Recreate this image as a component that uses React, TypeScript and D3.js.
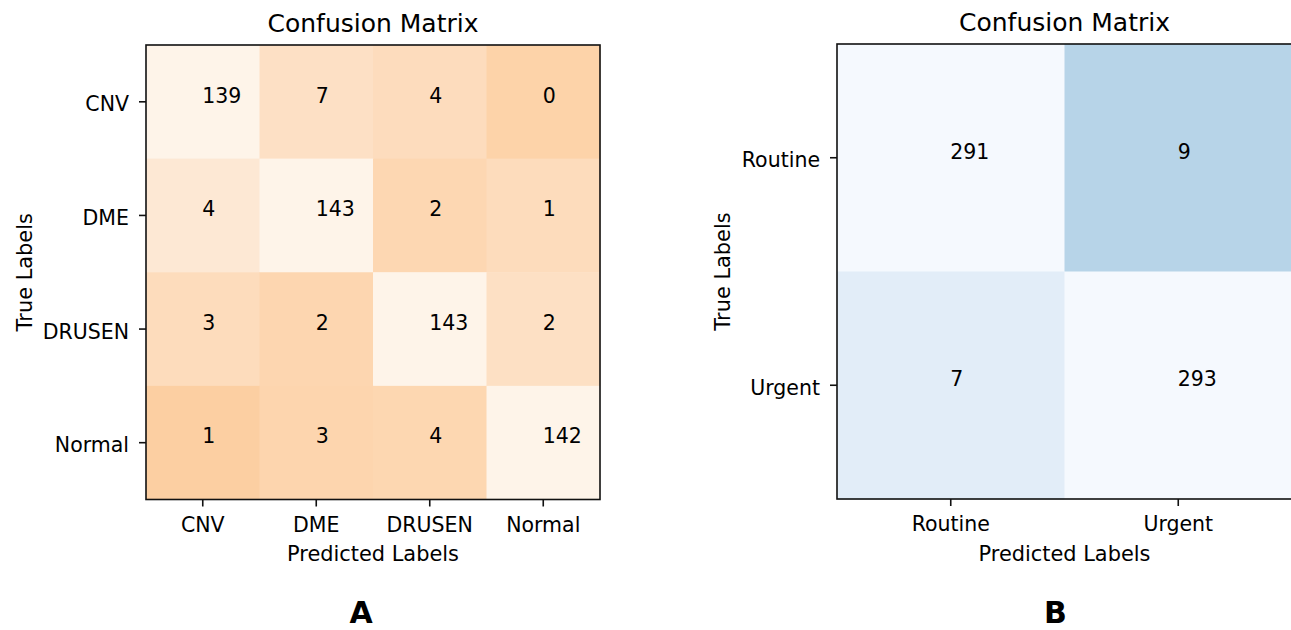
import React from "react";
import * as d3 from "d3";

// ---- Data ----
const classesA = ["CNV", "DME", "DRUSEN", "Normal"];
const matrixA = [
  [139, 7, 4, 0],
  [4, 143, 2, 1],
  [3, 2, 143, 2],
  [1, 3, 4, 142],
];
// colours, cell by cell
const coloursA = [
  ["#fef4e9", "#fde0c5", "#fddcbd", "#fdd3a9"],
  ["#fde8d4", "#fef4e9", "#fdd7b2", "#fddcbc"],
  ["#fddcbc", "#fdd6b0", "#fef4e9", "#fde0c4"],
  ["#fccfa2", "#fdd5ae", "#fdd7b1", "#fef4e9"],
];

const classesB = ["Routine", "Urgent"];
const matrixB = [
  [291, 9],
  [7, 293],
];
const coloursB = [
  ["#f5f9fe", "#b7d4e8"],
  ["#e2edf8", "#f5f9fe"],
];

const titleText = "Confusion Matrix";
const xLabelText = "Predicted Labels";
const yLabelText = "True Labels";
const panelLetters = ["A", "B"];

const FONT = "DejaVu Sans, Verdana, sans-serif";

type PanelProps = {
  classes: string[];
  matrix: number[][];
  colours: string[][];
  x0: number;
  x1: number;
  y0: number;
  y1: number;
  letter: string;
  letterX: number;
  yLabelX: number;
};

function Panel({ classes, matrix, colours, x0, x1, y0, y1, letter, letterX, yLabelX }: PanelProps) {
  const x = d3.scaleBand<string>().domain(classes).range([x0, x1]).padding(0);
  const y = d3.scaleBand<string>().domain(classes).range([y0, y1]).padding(0);
  const bw = x.bandwidth();
  const bh = y.bandwidth();
  const cx = (x0 + x1) / 2;
  const cy = (y0 + y1) / 2;
  return (
    <g fontFamily={FONT}>
      {matrix.map((row, i) =>
        row.map((v, j) => (
          <rect
            key={`c${i}-${j}`}
            x={x(classes[j])!}
            y={y(classes[i])!}
            width={bw + 0.5}
            height={bh + 0.5}
            fill={colours[i][j]}
          />
        ))
      )}
      {matrix.map((row, i) =>
        row.map((v, j) => (
          <text
            key={`t${i}-${j}`}
            x={x(classes[j])! + bw / 2 - 0.5}
            y={y(classes[i])! + bh / 2 + 0.8}
            fontSize={20.5}
            fill="#000"
            textAnchor="start"
          >
            {v}
          </text>
        ))
      )}
      <rect
        x={x0}
        y={y0}
        width={x1 - x0}
        height={y1 - y0}
        fill="none"
        stroke="#111"
        strokeWidth={1.6}
      />
      {/* x ticks */}
      {classes.map((c) => (
        <g key={`xt${c}`}>
          <line
            x1={x(c)! + bw / 2}
            x2={x(c)! + bw / 2}
            y1={y1}
            y2={y1 + 7}
            stroke="#111"
            strokeWidth={1.6}
          />
          <text x={x(c)! + bw / 2} y={y1 + 32} textAnchor="middle" fontSize={20.5} fill="#000">
            {c}
          </text>
        </g>
      ))}
      {/* y ticks */}
      {classes.map((c) => (
        <g key={`yt${c}`}>
          <line
            x1={x0 - 7}
            x2={x0}
            y1={y(c)! + bh / 2}
            y2={y(c)! + bh / 2}
            stroke="#111"
            strokeWidth={1.6}
          />
          <text
            x={x0 - 17}
            y={y(c)! + bh / 2 + 9.5}
            textAnchor="end"
            fontSize={20.5}
            fill="#000"
          >
            {c}
          </text>
        </g>
      ))}
      <text x={cx} y={y0 - 13} textAnchor="middle" fontSize={25} fill="#000">
        {titleText}
      </text>
      <text x={cx} y={y1 + 61.5} textAnchor="middle" fontSize={20.9} fill="#000">
        {xLabelText}
      </text>
      <text
        transform={`translate(${yLabelX},${cy}) rotate(-90)`}
        textAnchor="middle"
        fontSize={20.9}
        fill="#000"
      >
        {yLabelText}
      </text>
      <text x={letterX} y={622.5} textAnchor="middle" fontSize={30} fontWeight="bold" fill="#000">
        {letter}
      </text>
    </g>
  );
}

export default function App() {
  return (
    <svg
      width={1291}
      height={630}
      viewBox="0 0 1291 630"
      style={{ position: "fixed", left: 0, top: 0, background: "#fff" }}
    >
      <rect x={0} y={0} width={1291} height={630} fill="#fff" />
      <Panel
        classes={classesA}
        matrix={matrixA}
        colours={coloursA}
        x0={146}
        x1={600}
        y0={45}
        y1={499.5}
        letter={panelLetters[0]}
        letterX={361}
        yLabelX={31.5}
      />
      <Panel
        classes={classesB}
        matrix={matrixB}
        colours={coloursB}
        x0={837}
        x1={1292}
        y0={44}
        y1={499}
        letter={panelLetters[1]}
        letterX={1055.5}
        yLabelX={730}
      />
    </svg>
  );
}
